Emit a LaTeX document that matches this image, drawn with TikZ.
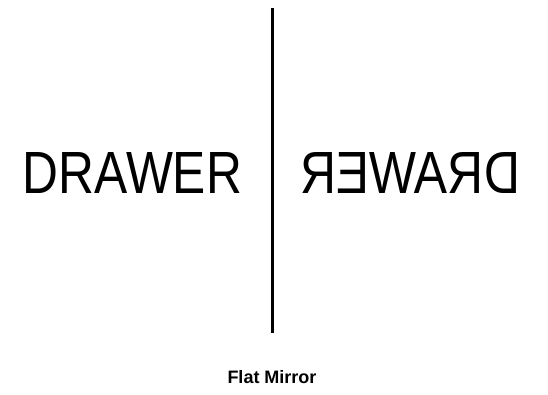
\documentclass[tikz,border=0pt]{standalone}
\usepackage{fontspec}
\usepackage{graphicx}
\setmainfont{Liberation Sans}
\begin{document}
\begin{tikzpicture}[x=1pt,y=-1pt,
  word/.style={inner sep=0pt,anchor=center},
  mirror/.style={line width=3pt}]
\useasboundingbox (0,0) rectangle (548,394);
\coordinate (mtop) at (272,8);
\coordinate (mbot) at (272,333);
\draw[mirror] (mtop) -- (mbot);
\node[word] (obj) at (132.5,172.5) {\resizebox{219pt}{41pt}{DRAWER}};
\node[word] (img) at (410,172.5) {\reflectbox{\resizebox{220pt}{41pt}{DRAWER}}};
\node[word,anchor=base] (cap) at (272,383) {\fontsize{18pt}{20pt}\selectfont\bfseries Flat Mirror};
\end{tikzpicture}
\end{document}
